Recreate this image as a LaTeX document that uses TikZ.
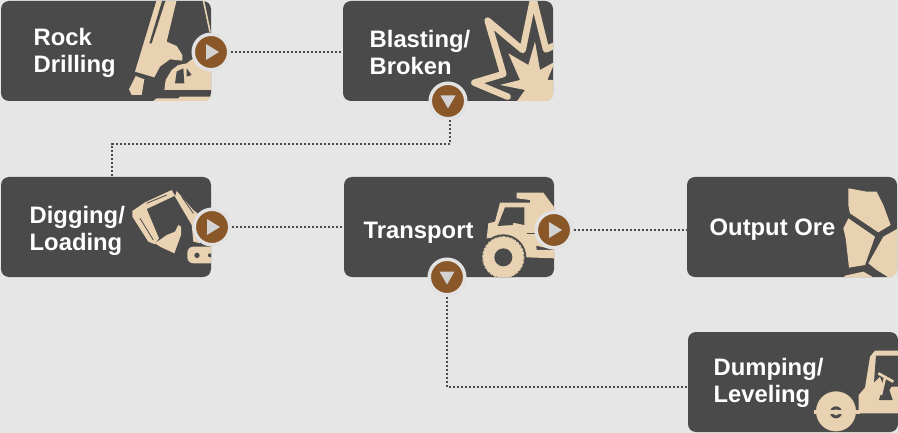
\documentclass[tikz,border=0pt]{standalone}
\usepackage{fontspec}
\setmainfont{Liberation Sans}
\definecolor{pagegray}{HTML}{E6E6E6}
\definecolor{boxgray}{HTML}{4A4A4A}
\definecolor{icontan}{HTML}{E8D2B2}
\definecolor{badgebrown}{HTML}{8A5728}
\definecolor{ringgray}{HTML}{E2E2E2}
\definecolor{tipgray}{HTML}{D2D2D2}
\tikzset{
  stagebox/.style={rectangle, fill=boxgray, rounded corners=8pt, minimum width=210pt, minimum height=100pt, inner sep=0pt},
  stagelabel/.style={anchor=west, align=left, text=white, inner sep=0pt, font=\fontsize{23.8}{27}\selectfont\bfseries},
  badge/.style={circle, fill=badgebrown, draw=ringgray, line width=3.5pt, minimum size=35.5pt, inner sep=0pt},
  badgeright/.style={badge, path picture={\fill[tipgray] (-5,-8) -- (8,0) -- (-5,8) -- cycle;}},
  badgedown/.style={badge, path picture={\fill[tipgray] (-7.5,-5.5) -- (7.5,-5.5) -- (0,7.5) -- cycle;}},
  link/.style={draw=boxgray, line width=2pt, dash pattern=on 2pt off 2pt},
  zoomed/.style={x=0.33333pt, y=-0.33333pt},
}
\begin{document}
\begin{tikzpicture}[x=1pt, y=-1pt]
  \useasboundingbox[fill=pagegray] (0,0) rectangle (898,433);

  % Nodes
  \node (rockBox) [stagebox] at (106,51) {};
  \node (blastBox) [stagebox] at (448,51) {};
  \node (digBox) [stagebox] at (106,227) {};
  \node (transBox) [stagebox] at (449,227) {};
  \node (oreBox) [stagebox] at (792,227) {};
  \node (dumpBox) [stagebox] at (793,382) {};

  % Icons
  \begin{scope}
    \clip[rounded corners=8pt] (rockBox.south west) rectangle (rockBox.north east);
    \begin{scope}[shift={(125,0)}, zoomed]
      \fill[icontan] (95,0) -- (155,0) -- (125,125) -- (155,138) -- (172,165) -- (172,182) -- (135,178) -- (105,200) -- (88,232) -- (30,215) -- cycle;
      \fill[boxgray] (112,0) -- (122,0) -- (80,130) -- (73,130) -- cycle;
      \fill[icontan] (32,228) -- (58,238) -- (50,285) -- (20,285) -- (12,268) -- cycle;
      \fill[icontan] (118,270) -- (122,240) -- (140,210) -- (160,195) -- (185,190) -- (205,175) -- (265,215) -- (265,270) -- cycle;
      \fill[boxgray] (150,250) -- (155,215) -- (175,205) -- (178,250) -- cycle;
      \fill[boxgray] (185,205) -- (200,225) -- (185,230) -- cycle;
      \fill[icontan] (82,305) -- (95,295) -- (160,295) -- (165,290) -- (265,290) -- (265,305) -- cycle;
      \draw[icontan, line width=1.6pt] (235,0) -- (255,95);
    \end{scope}
  \end{scope}
  \begin{scope}
    \clip[rounded corners=8pt] (blastBox.south west) rectangle (blastBox.north east);
    \begin{scope}[shift={(340,0)}, zoomed]
      \draw[icontan, line width=6.5pt, line join=round, line cap=round] (503,290) -- (403,248) -- (490,222) -- (443,62) -- (548,150) -- (580,-5) -- (618,148) -- (645,136);
      \fill[icontan] (480,255) -- (540,240) -- (505,160) -- (565,195) -- (585,125) -- (600,210) -- (645,185) -- (622,240) -- (645,240) -- (645,305) -- (530,305) -- (555,270) -- cycle;
    \end{scope}
  \end{scope}
  \begin{scope}
    \clip[rounded corners=8pt] (digBox.south west) rectangle (digBox.north east);
    \begin{scope}[shift={(125,185)}, zoomed]
      \fill[icontan] (22,78) -- (60,52) -- (140,15) -- (150,32) -- (65,72) -- (102,160) -- (90,178) -- (70,170) -- (22,95) -- cycle;
      \fill[icontan] (90,175) -- (125,150) -- (150,140) -- (160,120) -- (168,125) -- (168,150) -- (148,205) -- (105,185) -- cycle;
      \fill[icontan] (155,18) -- (205,75) -- (230,95) -- (225,175) -- (205,170) -- (200,120) -- (150,35) -- cycle;
      \draw[boxgray, line width=0.8pt] (65,55) -- (125,30) (45,100) -- (85,165) (170,35) -- (205,85);
      \fill[icontan, rounded corners=6pt] (187,185) rectangle (280,235);
      \fill[boxgray] (216,211) circle (8) (255,211) circle (6);
    \end{scope}
  \end{scope}
  \begin{scope}
    \clip[rounded corners=8pt] (transBox.south west) rectangle (transBox.north east);
    \begin{scope}[shift={(340,170)}, zoomed]
      \fill[icontan] (530,68) -- (610,68) -- (645,115) -- (645,240) -- (580,225) -- (570,90) -- (530,85) -- cycle;
      \fill[icontan] (440,205) -- (445,160) -- (465,155) -- (480,98) -- (575,98) -- (590,240) -- (645,240) -- (645,265) -- (560,262) -- (500,200) -- cycle;
      \fill[boxgray] (495,112) -- (553,112) -- (553,165) -- (520,158) -- (518,165) -- (473,168) -- cycle;
      \fill[boxgray] (560,188) rectangle (590,193);
      \fill[boxgray] (490,262) circle (69);
      \fill[icontan] (490,262) circle (61);
      \draw[icontan, line width=0.8pt, dash pattern=on 3pt off 1pt] (490,262) circle (62);
      \fill[boxgray] (490,262) circle (27);
    \end{scope}
  \end{scope}
  \begin{scope}
    \clip[rounded corners=8pt] (oreBox.south west) rectangle (oreBox.north east);
    \begin{scope}[shift={(680,175)}, zoomed]
      \fill[icontan] (505,40) -- (560,50) -- (590,50) -- (610,90) -- (632,150) -- (595,172) -- (510,115) -- (505,90) -- cycle;
      \fill[icontan] (505,130) -- (585,185) -- (555,270) -- (507,278) -- (497,190) -- (490,160) -- cycle;
      \fill[icontan] (610,185) -- (655,160) -- (655,310) -- (630,310) -- (590,285) -- (565,265) -- cycle;
      \fill[icontan] (495,302) -- (550,290) -- (585,310) -- (490,310) -- cycle;
    \end{scope}
  \end{scope}
  \begin{scope}
    \clip[rounded corners=8pt] (dumpBox.south west) rectangle (dumpBox.north east);
    \begin{scope}[shift={(810,345)}, zoomed]
      \fill[icontan] (146,205) -- (146,150) -- (165,128) -- (180,35) -- (195,17) -- (270,17) -- (270,205) -- cycle;
      \fill[boxgray] (198,32) -- (270,32) -- (270,125) -- (245,125) -- (238,135) -- (248,165) -- (207,165) -- (220,120) -- (210,95) -- (192,112) -- cycle;
      \draw[icontan, line width=2.7pt] (205,85) -- (250,110);
      \draw[icontan, line width=2.5pt] (225,98) -- (213,150);
      \fill[icontan] (78,199) circle (60);
      \fill[boxgray] (78,202) circle (18);
      \fill[icontan] (78,202) circle (9);
      \fill[icontan] (13,196) rectangle (150,208);
    \end{scope}
  \end{scope}

  % Labels
  \node (rockLabel) [stagelabel] at (33.5,52.5) {Rock\\Drilling};
  \node (blastLabel) [stagelabel] at (369.5,52.5) {Blasting/\\Broken};
  \node (digLabel) [stagelabel] at (29.5,231) {Digging/\\Loading};
  \node (transLabel) [stagelabel] at (363.5,233) {Transport};
  \node (oreLabel) [stagelabel] at (709.5,230) {Output Ore};
  \node (dumpLabel) [stagelabel] at (713.5,383) {Dumping/\\Leveling};

  % Badges
  \node (rockBadge) [badgeright] at (211,52) {};
  \node (blastBadge) [badgedown] at (448,101) {};
  \node (digBadge) [badgeright] at (212,227) {};
  \node (transBadgeE) [badgeright] at (554,230) {};
  \node (transBadgeS) [badgedown] at (447,277) {};

  % Arrows
  \coordinate (blastTurn) at (450,144);
  \draw[link] (rockBadge) -- (rockBadge -| blastBox.west);
  \draw[link] ([xshift=2pt]blastBadge.south) -- (blastTurn) -| ([xshift=6pt]digBox.north);
  \draw[link] (digBadge) -- (digBadge -| transBox.west);
  \draw[link] (transBadgeE) -- (transBadgeE -| oreBox.west);
  \draw[link] (transBadgeS) |- ([yshift=-5pt]dumpBox.west);
\end{tikzpicture}
\end{document}
